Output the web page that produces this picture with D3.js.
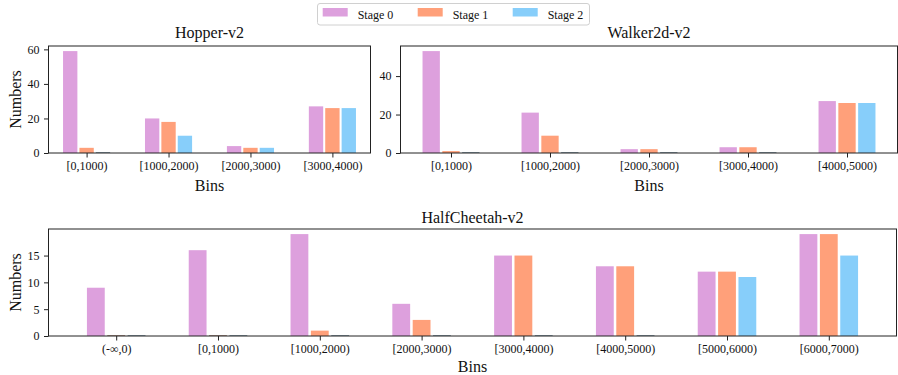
<!DOCTYPE html>
<html>
<head>
<meta charset="utf-8">
<script src="https://cdn.jsdelivr.net/npm/d3@7"></script>
<style>
  html, body { margin: 0; padding: 0; background: #fff; }
  svg { display: block; font-family: "Liberation Serif", "Times New Roman", serif; }
</style>
</head>
<body>
<svg id="chart" width="898" height="375"></svg>
<script>
// ---- data ----
const stageNames = ["Stage 0", "Stage 1", "Stage 2"];
const stageColors = ["#DDA0DD", "#FFA07A", "#87CEFA"];

const hopperBins = ["[0,1000)", "[1000,2000)", "[2000,3000)", "[3000,4000)"];
const hopperStage0 = [59, 20, 4, 27];
const hopperStage1 = [3, 18, 3, 26];
const hopperStage2 = [0, 10, 3, 26];
const hopperYTicks = [0, 20, 40, 60];

const walkerBins = ["[0,1000)", "[1000,2000)", "[2000,3000)", "[3000,4000)", "[4000,5000)"];
const walkerStage0 = [53, 21, 2, 3, 27];
const walkerStage1 = [1, 9, 2, 3, 26];
const walkerStage2 = [0, 0, 0, 0, 26];
const walkerYTicks = [0, 20, 40];

const cheetahBins = ["(-\u221E,0)", "[0,1000)", "[1000,2000)", "[2000,3000)", "[3000,4000)", "[4000,5000)", "[5000,6000)", "[6000,7000)"];
const cheetahStage0 = [9, 16, 19, 6, 15, 13, 12, 19];
const cheetahStage1 = [0, 0, 1, 3, 15, 13, 12, 19];
const cheetahStage2 = [0, 0, 0, 0, 0, 0, 11, 15];
const cheetahYTicks = [0, 5, 10, 15];

// ---- drawing ----
const svg = d3.select("#chart");
const barW = 0.175, barOff = 0.2;

function panel(cfg) {
  const {x0, x1, y0, y1, bins, series, yTicks, yMax, xPad, title, titleY, xLabelY, yLabel} = cfg;
  const g = svg.append("g");
  const x = d3.scaleLinear().domain([-xPad, bins.length - 1 + xPad]).range([x0, x1]);
  const y = d3.scaleLinear().domain([0, yMax]).range([y1, y0]);
  const unit = x(1) - x(0);

  series.forEach((vals, s) => {
    const col = stageColors[s];
    g.append("g").selectAll("rect").data(vals).join("rect")
      .attr("x", (d, i) => x(i + (s - 1) * barOff) - unit * barW / 2)
      .attr("width", unit * barW)
      .attr("y", d => y(d))
      .attr("height", d => y(0) - y(d))
      .attr("fill", col);
    // zero-height bars show as a dark sliver on the baseline
    g.append("g").selectAll("line").data(vals.map((v, i) => ({v, i})).filter(d => d.v === 0)).join("line")
      .attr("x1", d => x(d.i + (s - 1) * barOff) - unit * barW / 2)
      .attr("x2", d => x(d.i + (s - 1) * barOff) + unit * barW / 2)
      .attr("y1", y(0) - 0.5).attr("y2", y(0) - 0.5)
      .attr("stroke", d3.color(col).darker(2.2)).attr("stroke-width", 1).attr("opacity", 0.6);
  });

  // axes
  const xAxis = d3.axisBottom(x).tickValues(d3.range(bins.length)).tickFormat(i => bins[i])
    .tickSize(4.5).tickPadding(4);
  const yAxis = d3.axisLeft(y).tickValues(yTicks).tickSize(4.5).tickPadding(4.5);
  const gx = g.append("g").attr("transform", `translate(0,${y1})`).call(xAxis);
  const gy = g.append("g").attr("transform", `translate(${x0},0)`).call(yAxis);
  [gx, gy].forEach(a => {
    a.select(".domain").remove();
    a.selectAll("line").attr("stroke", "#222").attr("stroke-width", 1);
    a.selectAll("text").attr("font-family", "Liberation Serif").attr("font-size", 12).attr("fill", "#111");
  });

  // frame
  g.append("rect").attr("x", x0).attr("y", y0).attr("width", x1 - x0).attr("height", y1 - y0)
    .attr("fill", "none").attr("stroke", "#222").attr("stroke-width", 1);

  g.append("text").attr("x", (x0 + x1) / 2).attr("y", titleY).attr("text-anchor", "middle")
    .attr("font-size", 16).attr("fill", "#111").text(title);
  g.append("text").attr("x", (x0 + x1) / 2).attr("y", xLabelY).attr("text-anchor", "middle")
    .attr("font-size", 16).attr("fill", "#111").text("Bins");
  if (yLabel) {
    g.append("text").attr("transform", `translate(20.5,${(y0 + y1) / 2}) rotate(-90)`)
      .attr("text-anchor", "middle").attr("font-size", 16).attr("fill", "#111").text(yLabel);
  }
}

panel({x0: 48.5, x1: 370.5, y0: 46, y1: 153, bins: hopperBins,
  series: [hopperStage0, hopperStage1, hopperStage2], yTicks: hopperYTicks,
  yMax: 59 * 1.05, xPad: 0.465, title: "Hopper-v2", titleY: 37.5, xLabelY: 190.5, yLabel: "Numbers"});

panel({x0: 400.5, x1: 897.5, y0: 46, y1: 153, bins: walkerBins,
  series: [walkerStage0, walkerStage1, walkerStage2], yTicks: walkerYTicks,
  yMax: 53 * 1.05, xPad: 0.51, title: "Walker2d-v2", titleY: 37.5, xLabelY: 190.5, yLabel: null});

panel({x0: 48.5, x1: 896.5, y0: 229, y1: 336, bins: cheetahBins,
  series: [cheetahStage0, cheetahStage1, cheetahStage2], yTicks: cheetahYTicks,
  yMax: 19 * 1.05, xPad: 0.665, title: "HalfCheetah-v2", titleY: 222.5, xLabelY: 371.5, yLabel: "Numbers"});

// legend
const lg = svg.append("g");
lg.append("rect").attr("x", 317.5).attr("y", 3.5).attr("width", 272).attr("height", 21.5)
  .attr("rx", 2.5).attr("fill", "#fff").attr("stroke", "#d0d0d0").attr("stroke-width", 1);
const legX = [322.7, 417.7, 512.7];
stageNames.forEach((n, i) => {
  lg.append("rect").attr("x", legX[i]).attr("y", 8).attr("width", 25).attr("height", 8.5).attr("fill", stageColors[i]);
  lg.append("text").attr("x", legX[i] + 35).attr("y", 18.5).attr("font-size", 12).attr("fill", "#111").text(n);
});
</script>
</body>
</html>
